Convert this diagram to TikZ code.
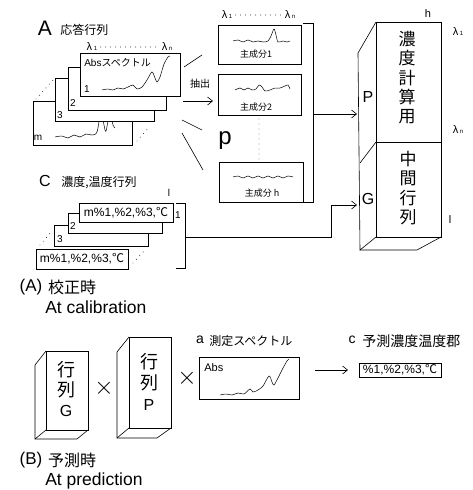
\documentclass[tikz,border=0pt]{standalone}
\usepackage{fontspec}
\setmainfont{Liberation Sans}
\newfontfamily\jp{Noto Sans CJK JP}
\usetikzlibrary{arrows.meta}
\newcommand{\fs}[1]{\fontsize{#1}{#1}\selectfont}
\newcommand{\lam}[1]{{\fs{11}λ}\,{\fs{6}#1}}
\begin{document}
\begin{tikzpicture}[x=1pt,y=-1pt,line width=0.6pt,
  t/.style={inner sep=0pt},
  box/.style={draw,fill=white,inner sep=0pt,outer sep=0pt,anchor=north west},
  arr/.style={-{Straight Barb[length=5pt,width=8pt,line width=0.6pt]}},
  spec/.style={line width=0.5pt},
  dots/.style={line width=0.9pt,line cap=round,dash pattern=on 0pt off 5pt}]
\useasboundingbox (0,0) rectangle (472,490);

% ================= A : response matrix =================
\node[t] (Alet) at (45,28) {\fs{21}A};
\node[t,anchor=west] (Atitle) at (60,30) {\jp\fs{12}応答行列};
\node[t] (al1) at (92,47) {\lam{1}};
\node[t] (aln) at (167,47) {\lam{n}};
\draw[dots] ([xshift=3pt]al1.east) -- ([xshift=-2pt]aln.west);

\node[box,minimum width=99pt,minimum height=44pt] (am) at (33,101) {};
\draw[spec] plot[smooth] coordinates {(55,137) (62,136) (68,138) (74,135) (80,137) (86,134) (92,135) (97,132) (101,112) (104,125) (106,131) (110,112) (113,125) (115,128)};
\node[t] (amt) at (38,138) {\fs{10}m};
\node[box,minimum width=99pt,minimum height=43pt] (a3) at (55,78) {};
\node[t] (a3t) at (60,115) {\fs{10}3};
\node[box,minimum width=98pt,minimum height=43pt] (a2) at (68,67) {};
\node[t] (a2t) at (73,103) {\fs{10}2};
\node[box,minimum width=100pt,minimum height=43pt] (a1) at (80,53) {};
\node[t] (a1t) at (87,89) {\fs{10}1};
\node[t,anchor=west] (abs1) at (84,63) {\fs{10}Abs{\jp スペクトル}};
\draw[spec] plot[smooth] coordinates {(102,90) (108,89) (113,90) (118,88) (123,89) (128,87) (133,85) (137,89) (142,87) (147,80) (152,72) (155,78) (157,82) (160,77) (164,64) (168,57) (170,56)};
\draw[dots] (36,99) -- (54,79);
\draw[dots] (137,141) -- (150,126);

% extraction lines
\coordinate (e1s) at (184,67);  \coordinate (e1e) at (202,55);
\coordinate (e2s) at (183,101); \coordinate (e2e) at (213,101);
\coordinate (e3s) at (182,120); \coordinate (e3e) at (202,130);
\coordinate (e4s) at (182,133); \coordinate (e4e) at (203,170);
\draw (e1s) -- (e1e);
\draw[arr] (e2s) -- (e2e);
\draw (e3s) -- (e3e);
\draw (e4s) -- (e4e);
\node[t] (ext) at (200,84) {\jp\fs{10}抽出};

% ================= principal components =================
\node[t] (pl1) at (227,15) {\lam{1}};
\node[t] (pln) at (290,15) {\lam{n}};
\draw[dots] ([xshift=3pt]pl1.east) -- ([xshift=-2pt]pln.west);
\node[box,minimum width=83pt,minimum height=39pt] (c1) at (218,25) {};
\draw[spec] plot[smooth] coordinates {(233,41) (238,40) (243,42) (248,40) (253,42) (258,41) (263,42) (268,41) (271,36) (274,29) (276,35) (278,42) (283,41) (287,42) (290,41)};
\node[t] (c1t) at (256,54) {\jp\fs{9}主成分1};
\node[box,minimum width=83pt,minimum height=41pt] (c2) at (218,74) {};
\draw[spec] plot[smooth] coordinates {(235,90) (240,88) (244,90) (248,88) (252,90) (256,89) (259,85) (262,87) (265,91) (270,90) (275,88) (280,88) (285,86) (288,85) (290,89)};
\node[t] (c2t) at (256,107) {\jp\fs{9}主成分2};
\node[box,minimum width=84pt,minimum height=40pt] (ch) at (219,162) {};
\draw[spec] plot[smooth] coordinates {(233,177) (238,176) (243,178) (248,176) (253,178) (258,176) (263,178) (268,176) (273,178) (278,176) (283,178) (288,176) (293,177)};
\node[t] (cht) at (262,193) {\jp\fs{9}主成分 h};
\draw[dots] (259,119) -- (259,160);
\node[t] (plet) at (225,141) {\fs{24}p};
% bracket
\draw (303,23) -- (313,23) -- (313,202) -- (303,202);
\coordinate (pbr) at (313,114);

% ================= big 3D block =================
\node[box,minimum width=65pt,minimum height=120pt] (Pf) at (376,22) {};
\node[box,minimum width=65pt,minimum height=95pt] (Gf) at (376,142) {};
\draw (Pf.north west) -- (358,53) -- (360,250) -- (Gf.south west);
\draw (Gf.north west) -- (360,163);
\draw (360,250) -- (417,250) -- (Gf.south east);
\foreach \c [count=\i] in {濃,度,計,算,用}
  \node[t] (pv\i) at (407,{19.5+19.5*\i}) {\jp\fs{17}\c};
\foreach \c [count=\i] in {中,間,行,列}
  \node[t] (gv\i) at (408,{139.5+19.5*\i}) {\jp\fs{17}\c};
\node[t] (Plet) at (368,97) {\fs{16}P};
\node[t] (Glet) at (368,199) {\fs{16}G};
\node[t] (hlab) at (428,14) {\fs{11}h};
\node[t] (bl1) at (458,32) {\lam{1}};
\node[t] (bln) at (458,130) {\lam{n}};
\node[t] (bll) at (450,220) {\fs{11}l};
\draw[arr] (pbr) -- (357,114);

% ================= C : concentration matrix =================
\node[t] (Clet) at (45,181) {\fs{16}C};
\node[t,anchor=west] (Ctitle) at (61,183) {\jp\fs{12}濃度,温度行列};
\node[box,minimum width=92pt,minimum height=20pt] (cm) at (36,249) {};
\node[t] (cmt) at (82,259) {\fs{12}m\%1,\%2,\%3,{\jp ℃}};
\node[box,minimum width=94pt,minimum height=21pt] (k3) at (54,225) {};
\node[t] (k3t) at (60,239) {\fs{10}3};
\node[box,minimum width=94pt,minimum height=20pt] (k2) at (68,213) {};
\node[t] (k2t) at (73,226) {\fs{10}2};
\node[box,minimum width=94pt,minimum height=19pt] (k1) at (79,203) {};
\node[t] (k1t) at (126,213) {\fs{12}m\%1,\%2,\%3,{\jp ℃}};
\draw[dots] (40,245) -- (52,231);
\draw[dots] (133,263) -- (144,251);
\draw (176,203) -- (185,203) -- (185,268) -- (176,268);
\node[t] (kl) at (169,193) {\fs{10}l};
\node[t] (k1n) at (178,215) {\fs{10}1};
\coordinate (kbr) at (185,237);
\draw[arr] (kbr) -- (331,237) -- (331,205) -- (357,205);

% labels A
\node[t] (Alab) at (31,287) {\fs{17}(A)};
\node[t] (Alab2) at (72,287) {\jp\fs{16}校正時};
\node[t,anchor=base west] (Aen) at (45,313) {\fs{17.5}At calibration};

% ================= B : prediction =================
\node[box,minimum width=42pt,minimum height=79pt] (bG) at (46,351) {};
\draw (bG.north west) -- (35,365) -- (35,439) -- (77,439) -- (bG.south east);
\draw (bG.south west) -- (35,439);
\node[t] (bG1) at (66,370) {\jp\fs{18}行};
\node[t] (bG2) at (66,390) {\jp\fs{18}列};
\node[t] (bG3) at (66,411) {\fs{16}G};
\node[t] (x1) at (104,388) {\fs{24}$\times$};
\node[box,minimum width=42pt,minimum height=91pt] (bP) at (129,337) {};
\draw (bP.north west) -- (117,352) -- (117,438) -- (157,438) -- (bP.south east);
\draw (bP.south west) -- (117,438);
\node[t] (bP1) at (149,362) {\jp\fs{18}行};
\node[t] (bP2) at (149,383) {\jp\fs{18}列};
\node[t] (bP3) at (149,405) {\fs{16}P};
\node[t] (x2) at (187,378) {\fs{24}$\times$};

\node[t] (alet) at (200,340) {\fs{14}a};
\node[t,anchor=west] (atitle) at (209,341) {\jp\fs{12}測定スペクトル};
\node[box,minimum width=100pt,minimum height=42pt] (absb) at (199,357) {};
\node[t,anchor=west] (absbt) at (204,368) {\fs{11}Abs};
\draw[spec] plot[smooth] coordinates {(220,395) (226,394) (232,395) (238,393) (244,394) (250,389) (253,392) (258,390) (263,386) (269,376) (272,382) (274,385) (278,378) (283,368) (287,361) (289,359)};
\coordinate (pas) at (315,370);
\coordinate (pae) at (348,370);
\draw[arr] (pas) -- (pae);
\node[t] (clet) at (352,340) {\fs{14}c};
\node[t,anchor=west] (ctitle) at (362,341) {\jp\fs{14}予測濃度温度郡};
\node[box,minimum width=82pt,minimum height=14pt] (res) at (359,363) {};
\node[t] (rest) at (res.center) {\fs{12}\%1,\%2,\%3,{\jp ℃}};

\node[t] (Blab) at (31,460) {\fs{17}(B)};
\node[t] (Blab2) at (72,460) {\jp\fs{16}予測時};
\node[t,anchor=base west] (Ben) at (45,485) {\fs{17.5}At prediction};
\end{tikzpicture}
\end{document}
